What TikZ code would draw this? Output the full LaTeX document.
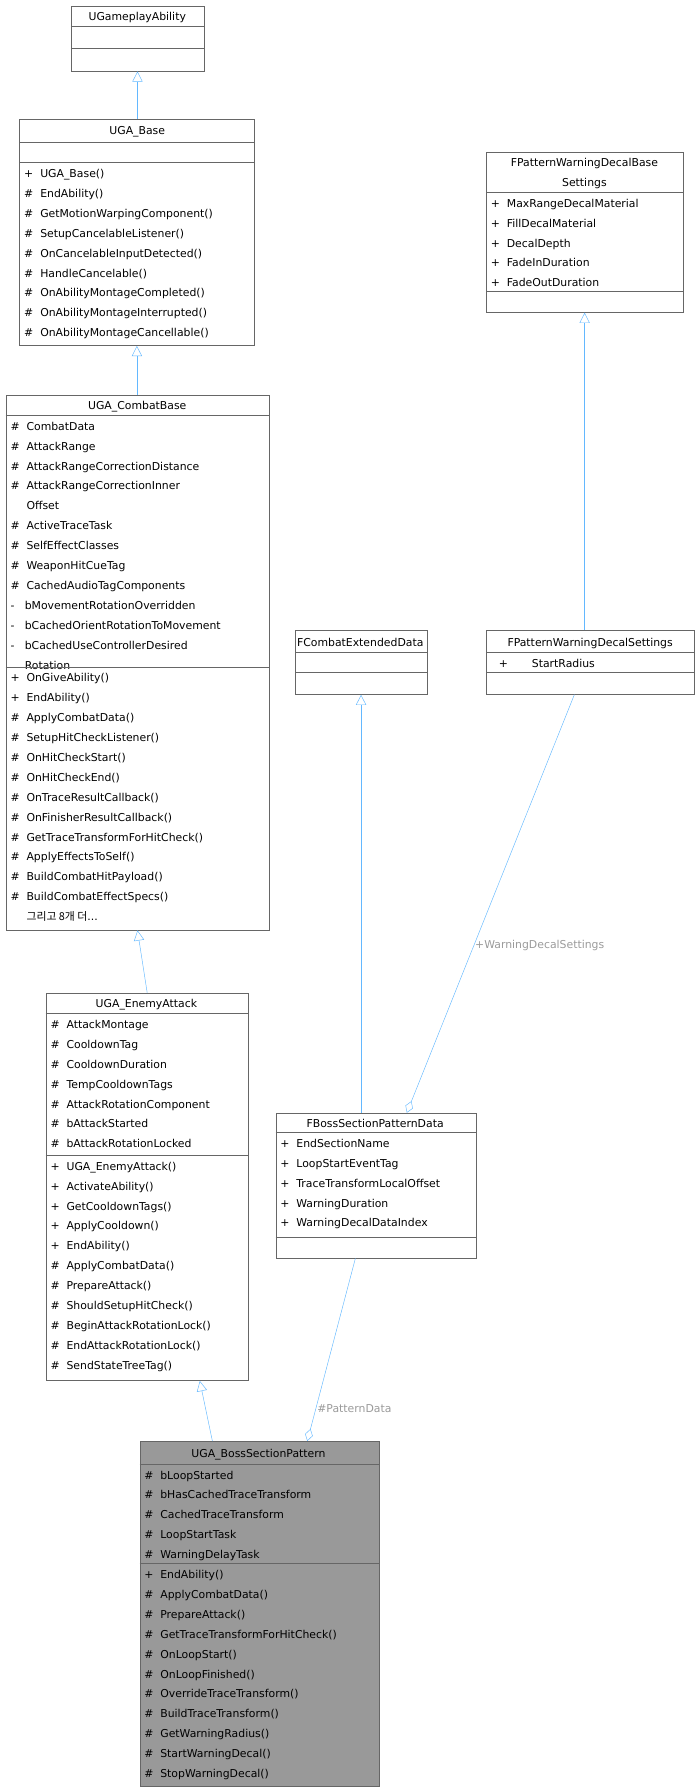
\documentclass[tikz,border=0pt]{standalone}
\usepackage{fontspec}
\setmainfont{DejaVu Sans}
\newfontfamily\kofont{Noto Sans CJK KR}
\usetikzlibrary{arrows.meta}
\definecolor{edgeblue}{HTML}{63B8FF}
\definecolor{lblgray}{HTML}{9A9A9A}
\definecolor{boxgray}{HTML}{999999}
\definecolor{linegray}{HTML}{666666}
\tikzset{
  cls/.style={draw=linegray, fill=white, rectangle, anchor=north west, inner sep=0pt},
  hot/.style={cls, fill=boxgray},
  title/.style={font=\fontsize{9.5}{17.4}\selectfont, anchor=base, inner sep=0pt, align=center},
  members/.style={font=\fontsize{9.5}{17.4}\selectfont, anchor=north west, inner sep=0pt, align=left, yshift=-5.8pt},
  sep/.style={draw=linegray},
  inherit/.style={draw=edgeblue, -{Triangle[open, length=9pt, width=9pt, fill=white]}},
  aggr/.style={draw=edgeblue, -{Diamond[open, length=11pt, width=7pt, fill=white]}},
  elabel/.style={font=\fontsize{9.5}{11}\selectfont, text=lblgray, inner sep=1pt}
}
\begin{document}
\begin{tikzpicture}[x=1pt, y=-1pt]
  \useasboundingbox (0,0) rectangle (611,1566);

  % classes
  \node[cls, minimum width=116, minimum height=57] (gameplay) at (62,5) {};
  \node[title] at (120,18) {UGameplayAbility};
  \draw[sep] (62,23) -- (178,23);
  \draw[sep] (62,42) -- (178,42);

  \node[cls, minimum width=205, minimum height=198] (base) at (17,104) {};
  \node[title] at (120,118) {UGA\_Base};
  \draw[sep] (17,124) -- (222,124);
  \draw[sep] (17,142) -- (222,142);
  \node[members] at (21,142) {+~~UGA\_Base()\\\#~~EndAbility()\\\#~~GetMotionWarpingComponent()\\\#~~SetupCancelableListener()\\\#~~OnCancelableInputDetected()\\\#~~HandleCancelable()\\\#~~OnAbilityMontageCompleted()\\\#~~OnAbilityMontageInterrupted()\\\#~~OnAbilityMontageCancellable()};

  \node[cls, minimum width=230, minimum height=468] (combat) at (5,345) {};
  \node[title] at (120,358) {UGA\_CombatBase};
  \draw[sep] (5,363) -- (235,363);
  \node[members] at (9,363) {\#~~CombatData\\\#~~AttackRange\\\#~~AttackRangeCorrectionDistance\\\#~~AttackRangeCorrectionInner\\\phantom{\#~~}Offset\\\#~~ActiveTraceTask\\\#~~SelfEffectClasses\\\#~~WeaponHitCueTag\\\#~~CachedAudioTagComponents\\-~~~bMovementRotationOverridden\\-~~~bCachedOrientRotationToMovement\\-~~~bCachedUseControllerDesired\\\phantom{-~~~}Rotation};
  \draw[sep] (5,583) -- (235,583);
  \node[members] at (9,583) {+~~OnGiveAbility()\\+~~EndAbility()\\\#~~ApplyCombatData()\\\#~~SetupHitCheckListener()\\\#~~OnHitCheckStart()\\\#~~OnHitCheckEnd()\\\#~~OnTraceResultCallback()\\\#~~OnFinisherResultCallback()\\\#~~GetTraceTransformForHitCheck()\\\#~~ApplyEffectsToSelf()\\\#~~BuildCombatHitPayload()\\\#~~BuildCombatEffectSpecs()\\\phantom{\#~~}{\kofont 그리고 8개 더}...};

  \node[cls, minimum width=177, minimum height=339] (enemy) at (40,868) {};
  \node[title] at (128,881) {UGA\_EnemyAttack};
  \draw[sep] (40,886) -- (217,886);
  \node[members] at (44,886) {\#~~AttackMontage\\\#~~CooldownTag\\\#~~CooldownDuration\\\#~~TempCooldownTags\\\#~~AttackRotationComponent\\\#~~bAttackStarted\\\#~~bAttackRotationLocked};
  \draw[sep] (40,1010) -- (217,1010);
  \node[members] at (44,1010) {+~~UGA\_EnemyAttack()\\+~~ActivateAbility()\\+~~GetCooldownTags()\\+~~ApplyCooldown()\\+~~EndAbility()\\\#~~ApplyCombatData()\\\#~~PrepareAttack()\\\#~~ShouldSetupHitCheck()\\\#~~BeginAttackRotationLock()\\\#~~EndAttackRotationLock()\\\#~~SendStateTreeTag()};

  \node[hot, minimum width=209, minimum height=302] (boss) at (122,1260) {};
  \node[title] at (226,1274) {UGA\_BossSectionPattern};
  \draw[sep] (122,1280) -- (331,1280);
  \node[members] at (126,1280) {\#~~bLoopStarted\\\#~~bHasCachedTraceTransform\\\#~~CachedTraceTransform\\\#~~LoopStartTask\\\#~~WarningDelayTask};
  \draw[sep] (122,1367) -- (331,1367);
  \node[members] at (126,1367) {+~~EndAbility()\\\#~~ApplyCombatData()\\\#~~PrepareAttack()\\\#~~GetTraceTransformForHitCheck()\\\#~~OnLoopStart()\\\#~~OnLoopFinished()\\\#~~OverrideTraceTransform()\\\#~~BuildTraceTransform()\\\#~~GetWarningRadius()\\\#~~StartWarningDecal()\\\#~~StopWarningDecal()};

  \node[cls, minimum width=172, minimum height=140] (decalbase) at (425,133) {};
  \node[title, anchor=north] at (511,138) {FPatternWarningDecalBase\\Settings};
  \draw[sep] (425,168) -- (597,168);
  \node[members] at (429,168) {+~~MaxRangeDecalMaterial\\+~~FillDecalMaterial\\+~~DecalDepth\\+~~FadeInDuration\\+~~FadeOutDuration};
  \draw[sep] (425,255) -- (597,255);

  \node[cls, minimum width=115, minimum height=56] (extended) at (258,551) {};
  \node[title] at (315,565) {FCombatExtendedData};
  \draw[sep] (258,570) -- (373,570);
  \draw[sep] (258,588) -- (373,588);

  \node[cls, minimum width=182, minimum height=56] (decal) at (425,551) {};
  \node[title] at (516,565) {FPatternWarningDecalSettings};
  \draw[sep] (425,570) -- (607,570);
  \node[members] at (436,570) {+\hspace{2.2em}StartRadius};
  \draw[sep] (425,588) -- (607,588);

  \node[cls, minimum width=175, minimum height=127] (pattern) at (241,973) {};
  \node[title] at (328,986) {FBossSectionPatternData};
  \draw[sep] (241,990) -- (416,990);
  \node[members] at (245,990) {+~~EndSectionName\\+~~LoopStartEventTag\\+~~TraceTransformLocalOffset\\+~~WarningDuration\\+~~WarningDecalDataIndex};
  \draw[sep] (241,1082) -- (416,1082);

  % connectors
  \draw[inherit] (base.north -| gameplay.south) -- (gameplay.south);
  \draw[inherit] (combat.north -| base.south) -- (base.south);
  \draw[inherit] (enemy.north) -- (combat.south);
  \draw[inherit] ([xshift=-41pt]boss.north) -- ([xshift=46pt]enemy.south);
  \draw[inherit] (decal.north -| decalbase.south) -- (decalbase.south);
  \draw[inherit] (pattern.north -| extended.south) -- (extended.south);
  \draw[aggr] ([xshift=-14pt]decal.south) -- ([xshift=27pt]pattern.north)
    node[elabel, pos=0.6, right] {+WarningDecalSettings};
  \draw[aggr] ([xshift=-18pt]pattern.south) -- ([xshift=42pt]boss.north)
    node[elabel, pos=0.82, right] {\#PatternData};
\end{tikzpicture}
\end{document}
